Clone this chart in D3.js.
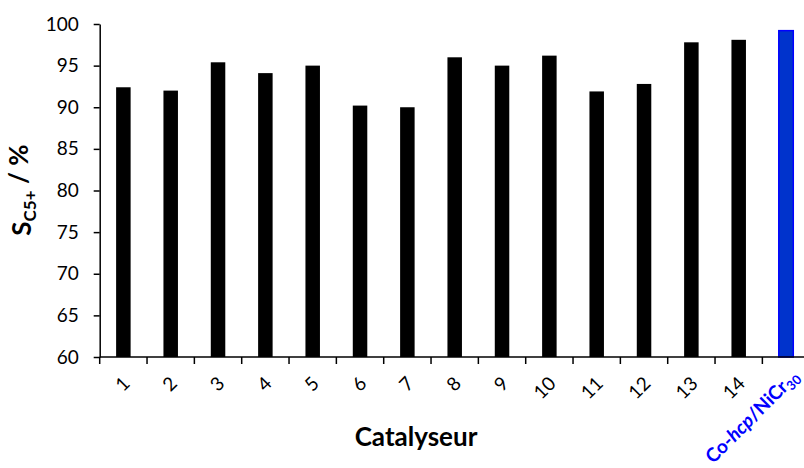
<!DOCTYPE html>
<html><head><meta charset="utf-8">
<script src="https://cdn.jsdelivr.net/npm/d3@7"></script>
<style>body{margin:0;background:#fff}svg{display:block}</style>
</head><body>
<svg id="c" width="804" height="468"></svg>
<script>
const categories = ["1","2","3","4","5","6","7","8","9","10","11","12","13","14","Co-hcp/NiCr30"];
const values = [92.4, 92.0, 95.4, 94.1, 95.0, 90.2, 90.0, 96.0, 95.0, 96.2, 91.9, 92.8, 97.8, 98.1, 99.2];
const yTicks = [60,65,70,75,80,85,90,95,100];

const svg = d3.select("#c");
const mLeft = 99.7, mRight = 809.7, mTop = 24, mBottom = 357;
const x = d3.scaleBand().domain(categories).range([mLeft, mRight]).paddingInner(0).paddingOuter(0);
const y = d3.scaleLinear().domain([60, 100]).range([mBottom, mTop]);
const barW = 14.5;
const font = "Lato, 'Open Sans', sans-serif";

// bars
svg.append("g").selectAll("rect").data(values).join("rect")
  .attr("x", (d,i) => x(categories[i]) + x.bandwidth()/2 - barW/2)
  .attr("y", d => y(d))
  .attr("width", barW)
  .attr("height", d => y(60) - y(d))
  .attr("fill", (d,i) => i === categories.length-1 ? "#0033cc" : "#000")
  .attr("stroke", (d,i) => i === categories.length-1 ? "#0000ff" : "none")
  .attr("stroke-width", 1.5);

// y axis
const yAxis = svg.append("g").attr("transform", `translate(${mLeft},0)`)
  .call(d3.axisLeft(y).tickValues(yTicks).tickSize(6).tickPadding(15).tickSizeOuter(0));
yAxis.select(".domain").attr("stroke", "#000").attr("stroke-width", 1.5);
yAxis.selectAll(".tick line").attr("stroke", "#000").attr("stroke-width", 1.5);
yAxis.selectAll(".tick text").attr("font-family", font).attr("font-size", 19).attr("fill", "#000");

// x axis line and ticks at band boundaries
const gx = svg.append("g");
gx.append("line").attr("x1", mLeft).attr("x2", mRight).attr("y1", mBottom).attr("y2", mBottom)
  .attr("stroke", "#000").attr("stroke-width", 1.5);
gx.selectAll("line.t").data(categories).join("line").attr("class","t")
  .attr("x1", d => x(d)).attr("x2", d => x(d))
  .attr("y1", mBottom).attr("y2", mBottom + 7)
  .attr("stroke", "#000").attr("stroke-width", 1.5);

// x tick labels
categories.forEach((c, i) => {
  const cx = x(c) + x.bandwidth()/2;
  const last = i === categories.length - 1;
  const t = svg.append("text")
    .attr("transform", `translate(${cx + (last ? 9 : 3)},${last ? 373 : 380}) rotate(-45)`)
    .attr("text-anchor", "end")
    .attr("dy", "0.35em")
    .attr("font-family", font)
    .attr("font-size", last ? 19 : 19)
    .attr("font-weight", last ? "bold" : "normal")
    .attr("fill", last ? "#0000ff" : "#000");
  if (last) {
    t.append("tspan").text("Co-");
    t.append("tspan").attr("font-style", "italic").text("hcp");
    t.append("tspan").text("/NiCr");
    t.append("tspan").attr("font-size", 13).attr("dy", "0.3em").text("30");
  } else {
    t.text(c);
  }
});

// x title
svg.append("text").attr("x", 416).attr("y", 446).attr("text-anchor", "middle")
  .attr("font-family", font).attr("font-size", 26).attr("font-weight", "bold").text("Catalyseur");

// y title
const yt = svg.append("text").attr("transform", "translate(31,190) rotate(-90)")
  .attr("text-anchor", "middle").attr("font-family", font).attr("font-weight", "bold").attr("font-size", 26);
yt.append("tspan").text("S");
yt.append("tspan").attr("font-size", 17).attr("dy", "0.3em").text("C5+");
yt.append("tspan").attr("dy", "-0.3em").attr("font-size", 26).text(" / %");
</script>
</body></html>
